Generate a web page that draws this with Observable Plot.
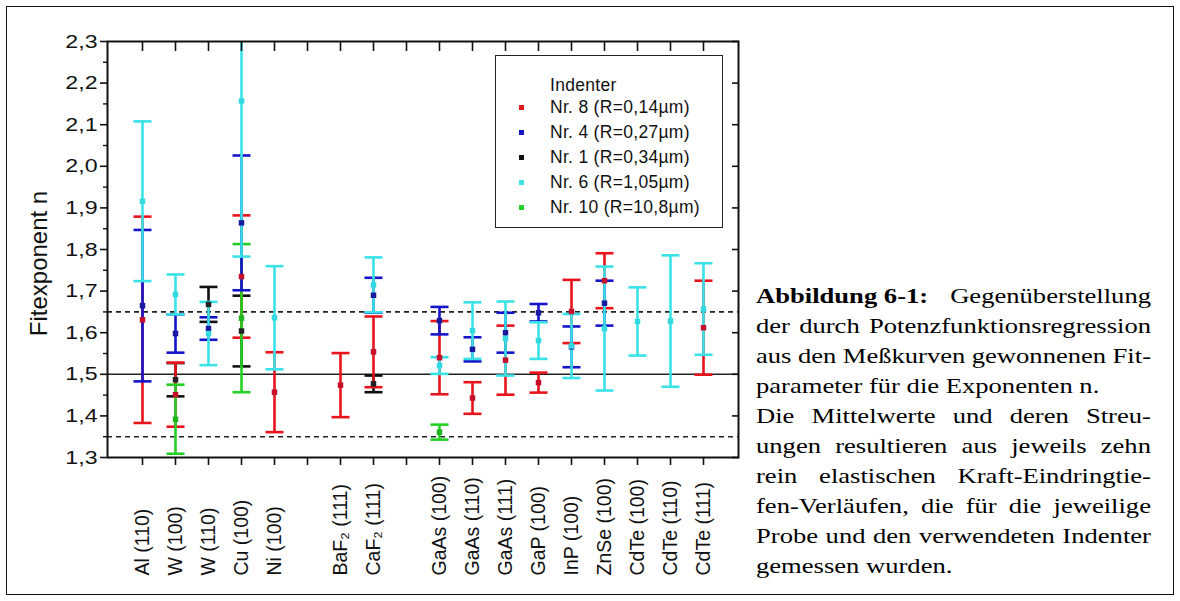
<!DOCTYPE html>
<html><head><meta charset="utf-8">
<script src="https://cdn.jsdelivr.net/npm/d3@7"></script>
<script src="https://cdn.jsdelivr.net/npm/@observablehq/plot@0.6"></script>
<style>
html,body{margin:0;padding:0;background:#fff;width:1180px;height:601px;overflow:hidden;position:relative}
#border{position:absolute;left:6px;top:6px;width:1166px;height:587px;border:1px solid #111;}
#chart{position:absolute;left:0;top:0}
#legend{position:absolute;left:495px;top:55px;width:226px;height:171px;border:1.6px solid #222;background:#fff;font-family:"Liberation Sans",Arial,sans-serif;font-size:17.5px;color:#111;letter-spacing:0.3px}
#legend .t{position:absolute;left:54px;white-space:nowrap;line-height:20px}
#legend .m{position:absolute;left:23px;width:5px;height:5px}
#caption{position:absolute;left:756px;top:281px;width:312px;font-family:"Liberation Serif","Times New Roman",serif;font-size:21px;color:#000;transform:scaleX(1.266);transform-origin:0 0}
#caption .ln{height:30px;line-height:30px;white-space:nowrap}
#caption .j{display:flex;justify-content:space-between}
</style></head><body>
<div id="border"></div>
<div id="chart"></div>
<div id="legend"></div>
<div id="caption"></div>
<script>
const categories = ["Al (110)","W (100)","W (110)","Cu (100)","Ni (100)"," ","BaF₂ (111)","CaF₂ (111)","  ","GaAs (100)","GaAs (110)","GaAs (111)","GaP (100)","InP (100)","ZnSe (100)","CdTe (100)","CdTe (110)","CdTe (111)"];
const legendTitle = "Indenter";
const indenters = ["Nr. 8 (R=0,14µm)","Nr. 4 (R=0,27µm)","Nr. 1 (R=0,34µm)","Nr. 6 (R=1,05µm)","Nr. 10 (R=10,8µm)"];
const colors = ["#e8141c","#1414c8","#111111","#3ae2e8","#24d024"];
const dotColors = ["#c4102a","#1a1aa0","#222222","#34d8e0","#20b420"];
// [category, mean, scatter]
const nr8 = [["Al (110)",1.631,0.248],["W (100)",1.451,0.077],["Cu (100)",1.735,0.147],["Ni (100)",1.457,0.096],["BaF₂ (111)",1.474,0.077],["CaF₂ (111)",1.554,0.085],["GaAs (100)",1.540,0.088],["GaAs (110)",1.443,0.038],["GaAs (111)",1.534,0.083],["GaP (100)",1.480,0.024],["InP (100)",1.651,0.076],["ZnSe (100)",1.725,0.066],["CdTe (111)",1.612,0.113]];
const nr4 = [["Al (110)",1.665,0.182],["W (100)",1.598,0.046],["W (110)",1.610,0.027],["Cu (100)",1.864,0.162],["CaF₂ (111)",1.690,0.042],["GaAs (100)",1.629,0.033],["GaAs (110)",1.560,0.029],["GaAs (111)",1.600,0.048],["GaP (100)",1.648,0.021],["InP (100)",1.566,0.049],["ZnSe (100)",1.671,0.054]];
const nr1 = [["W (100)",1.487,0.040],["W (110)",1.668,0.042],["Cu (100)",1.604,0.085],["CaF₂ (111)",1.477,0.020]];
const nr6 = [["Al (110)",1.916,0.192],["W (100)",1.692,0.048],["W (110)",1.598,0.076],["Cu (100)",2.157,0.374],["Ni (100)",1.636,0.124],["CaF₂ (111)",1.715,0.066],["GaAs (100)",1.521,0.020],["GaAs (110)",1.605,0.068],["GaAs (111)",1.586,0.089],["GaP (100)",1.581,0.044],["InP (100)",1.568,0.077],["ZnSe (100)",1.610,0.149],["CdTe (100)",1.627,0.082],["CdTe (110)",1.628,0.158],["CdTe (111)",1.657,0.110]];
const nr10 = [["W (100)",1.392,0.083],["Cu (100)",1.635,0.178],["GaAs (100)",1.361,0.018]];
const yTicks = [1.3,1.4,1.5,1.6,1.7,1.8,1.9,2.0,2.1,2.2,2.3];
const yMinor = [1.35,1.45,1.55,1.65,1.75,1.85,1.95,2.05,2.15,2.25];
const refSolid = [1.5];
const refDashed = [1.35,1.65];
const yLabel = "Fitexponent n";
const captionTitle = "Abbildung 6-1:";
const captionLines = [
  ["Gegenüberstellung", true],
  ["der durch Potenzfunktionsregression", true],
  ["aus den Meßkurven gewonnenen Fit-", true],
  ["parameter für die Exponenten n.", false],
  ["Die Mittelwerte und deren Streu-", true],
  ["ungen resultieren aus jeweils zehn", true],
  ["rein elastischen Kraft-Eindringtie-", true],
  ["fen-Verläufen, die für die jeweilige", true],
  ["Probe und den verwendeten Indenter", true],
  ["gemessen wurden.", false]
];

const seriesData = [nr8, nr4, nr1, nr6, nr10];
const drawOrder = [2, 0, 4, 1, 3];
const rowsOf = i => seriesData[i].map(([cat, m, e]) => ({cat, m, lo: m - e, hi: m + e}));

// horizontal-line symbol for the error-bar caps
const capSymbol = {draw(ctx, size) { const w = Math.sqrt(size / Math.PI); ctx.moveTo(-w, 0); ctx.lineTo(w, 0); }};

const marks = [
  Plot.ruleY(refSolid, {stroke: "#222", strokeWidth: 1.6}),
  Plot.ruleY(refDashed, {stroke: "#222", strokeWidth: 1.6, strokeDasharray: "5,4"})
];
for (const i of drawOrder) {
  const rows = rowsOf(i);
  marks.push(Plot.ruleX(rows, {x: "cat", y1: "lo", y2: "hi", stroke: colors[i], strokeWidth: 2.6, clip: true}));
  marks.push(Plot.dot(rows, {x: "cat", y: "lo", symbol: capSymbol, r: 9, stroke: colors[i], strokeWidth: 2.6, fill: "none", clip: true}));
  marks.push(Plot.dot(rows, {x: "cat", y: "hi", symbol: capSymbol, r: 9, stroke: colors[i], strokeWidth: 2.6, fill: "none", clip: true}));
}
for (const i of drawOrder) {
  marks.push(Plot.dot(rowsOf(i), {x: "cat", y: "m", symbol: "square", r: 3.1, fill: dotColors[i], stroke: "none", clip: true}));
}
marks.push(
  Plot.axisY({ticks: yTicks, tickSize: 7, tickPadding: 3, tickFormat: d => d.toFixed(1).replace(".", ","), label: null, fontSize: 19, strokeWidth: 1.6}),
  Plot.axisY({ticks: yMinor, tickSize: 4, tickFormat: () => "", label: null, strokeWidth: 1.4}),
  Plot.axisY({anchor: "right", ticks: yTicks, tickSize: -7, tickFormat: () => "", label: null, strokeWidth: 1.6}),
  Plot.axisX({ticks: categories, tickSize: 8, tickFormat: () => "", label: null, strokeWidth: 1.6}),
  Plot.axisX({anchor: "top", ticks: categories, tickSize: -9, tickFormat: () => "", label: null, strokeWidth: 1.6}),
  Plot.frame({stroke: "#111", strokeWidth: 2}),
  Plot.text(categories, {x: d => d, frameAnchor: "bottom", dy: 118, rotate: -90, textAnchor: "start", lineAnchor: "middle", fontSize: 19.5, fill: "#111"}),
  Plot.text([yLabel], {frameAnchor: "left", dx: -68, dy: 14, rotate: -90, textAnchor: "middle", lineAnchor: "middle", fontSize: 24, fill: "#111"})
);

const chart = Plot.plot({
  width: 745, height: 601,
  marginLeft: 107, marginRight: 7, marginTop: 41, marginBottom: 144,
  style: {fontFamily: "'Liberation Sans', Arial, sans-serif", fontSize: "19px", background: "transparent", color: "#111"},
  x: {type: "point", domain: categories, padding: 1},
  y: {domain: [1.3, 2.3]},
  marks
});
document.getElementById("chart").appendChild(chart);

// widen horizontal tick labels (reference glyphs are horizontally stretched)
chart.querySelectorAll('g[aria-label="y-axis tick label"] text').forEach(t => {
  const L = t.getComputedTextLength();
  if (L > 0) { t.setAttribute("textLength", (L * 1.22).toFixed(1)); t.setAttribute("lengthAdjust", "spacingAndGlyphs"); }
});

// legend
const lg = document.getElementById("legend");
const title = document.createElement("div");
title.className = "t"; title.style.top = "19px"; title.textContent = legendTitle;
lg.appendChild(title);
indenters.forEach((name, i) => {
  const cy = 51 + i * 25;
  const m = document.createElement("div");
  m.className = "m"; m.style.top = (cy - 2.5) + "px"; m.style.background = colors[i];
  lg.appendChild(m);
  const t = document.createElement("div");
  t.className = "t"; t.style.top = (cy - 10) + "px"; t.textContent = name;
  lg.appendChild(t);
});

// caption
const cap = document.getElementById("caption");
captionLines.forEach(([text, just], k) => {
  const ln = document.createElement("div");
  ln.className = "ln" + (just ? " j" : "");
  const words = text.split(" ");
  const parts = [];
  if (k === 0) {
    const b = document.createElement("b");
    b.textContent = captionTitle.replace(" ", "\u00a0");
    parts.push(b);
  }
  words.forEach(w => { const s = document.createElement("span"); s.textContent = w; parts.push(s); });
  if (just) parts.forEach(p => ln.appendChild(p));
  else parts.forEach((p, idx) => { if (idx) ln.appendChild(document.createTextNode(" ")); ln.appendChild(p); });
  cap.appendChild(ln);
});
</script>
</body></html>
